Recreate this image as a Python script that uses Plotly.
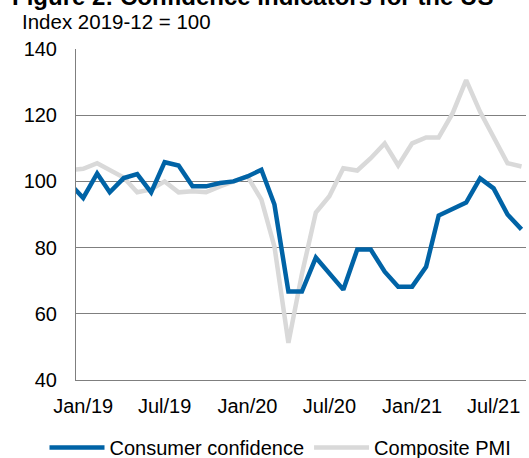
import plotly.graph_objects as go

months = ["2018-12-01", "2019-01-01", "2019-02-01", "2019-03-01", "2019-04-01", "2019-05-01",
          "2019-06-01", "2019-07-01", "2019-08-01", "2019-09-01", "2019-10-01", "2019-11-01",
          "2019-12-01", "2020-01-01", "2020-02-01", "2020-03-01", "2020-04-01", "2020-05-01",
          "2020-06-01", "2020-07-01", "2020-08-01", "2020-09-01", "2020-10-01", "2020-11-01",
          "2020-12-01", "2021-01-01", "2021-02-01", "2021-03-01", "2021-04-01", "2021-05-01",
          "2021-06-01", "2021-07-01", "2021-08-01", "2021-09-01"]

consumer_confidence = [99.5, 95.0, 102.4, 96.7, 101.0, 102.2, 96.7, 105.8, 104.8, 98.5, 98.5, 99.5,
                       100.0, 101.5, 103.5, 93.0, 66.7, 66.7, 77.0, 72.0, 67.3, 79.4, 79.4, 72.7,
                       68.2, 68.2, 74.2, 89.7, 91.6, 93.6, 100.9, 97.9, 90.0, 85.5]

composite_pmi = [103.4, 103.8, 105.5, 103.6, 101.2, 96.7, 97.6, 100.0, 96.7, 97.0, 96.7, 98.5,
                 100.0, 101.5, 94.5, 80.3, 51.2, 72.0, 90.6, 95.5, 104.0, 103.3, 107.0, 111.5,
                 104.8, 111.5, 113.3, 113.3, 120.6, 130.6, 121.0, 113.6, 105.5, 104.5]

tick_dates = ["2019-01-01", "2019-07-01", "2020-01-01", "2020-07-01", "2021-01-01", "2021-07-01"]
tick_labels = ["Jan/19", "Jul/19", "Jan/20", "Jul/20", "Jan/21", "Jul/21"]
y_ticks = [40, 60, 80, 100, 120, 140]

FONT = "Liberation Sans, Arial, sans-serif"

fig = go.Figure()
fig.add_trace(go.Scatter(x=months, y=composite_pmi, mode="lines", name="Composite PMI",
                         line=dict(color="#D9D9D9", width=4.5)))
fig.add_trace(go.Scatter(x=months, y=consumer_confidence, mode="lines", name="Consumer confidence",
                         line=dict(color="#0063A6", width=4.5)))

fig.update_layout(
    width=529, height=458,
    margin=dict(l=76, r=3, t=49, b=78, autoexpand=False),
    paper_bgcolor="white", plot_bgcolor="white",
    font=dict(family=FONT, size=20, color="#000000"),
    showlegend=True,
    legend=dict(orientation="h", x=-0.07, xanchor="left", y=-0.145, yanchor="top",
                font=dict(size=20), itemwidth=55, traceorder="reversed",
                bgcolor="rgba(0,0,0,0)"),
    xaxis=dict(type="date", range=["2018-12-16", "2021-09-11"],
               tickvals=tick_dates, ticktext=tick_labels, showgrid=False,
               showline=True, linecolor="#7f7f7f", linewidth=1, ticks="",
               ticklabelstandoff=8, zeroline=False),
    yaxis=dict(range=[40, 140], tickvals=y_ticks, showgrid=True, gridcolor="#7f7f7f",
               gridwidth=1, showline=True, linecolor="#7f7f7f", linewidth=1, ticks="",
               ticklabelstandoff=14, zeroline=False),
    annotations=[
        dict(text="<b>Figure 2: Confidence indicators for the US</b>", xref="paper", yref="paper",
             x=-0.147, y=1.112, xanchor="left", yanchor="bottom", showarrow=False,
             font=dict(size=24, family=FONT)),
        dict(text="Index 2019-12 = 100", xref="paper", yref="paper",
             x=-0.124, y=1.082, xanchor="left", yanchor="middle", showarrow=False,
             font=dict(size=20.5, family=FONT)),
    ],
)

fig.write_html("out.html", config={"displayModeBar": False},
               post_script="document.body.style.margin='0px';")
